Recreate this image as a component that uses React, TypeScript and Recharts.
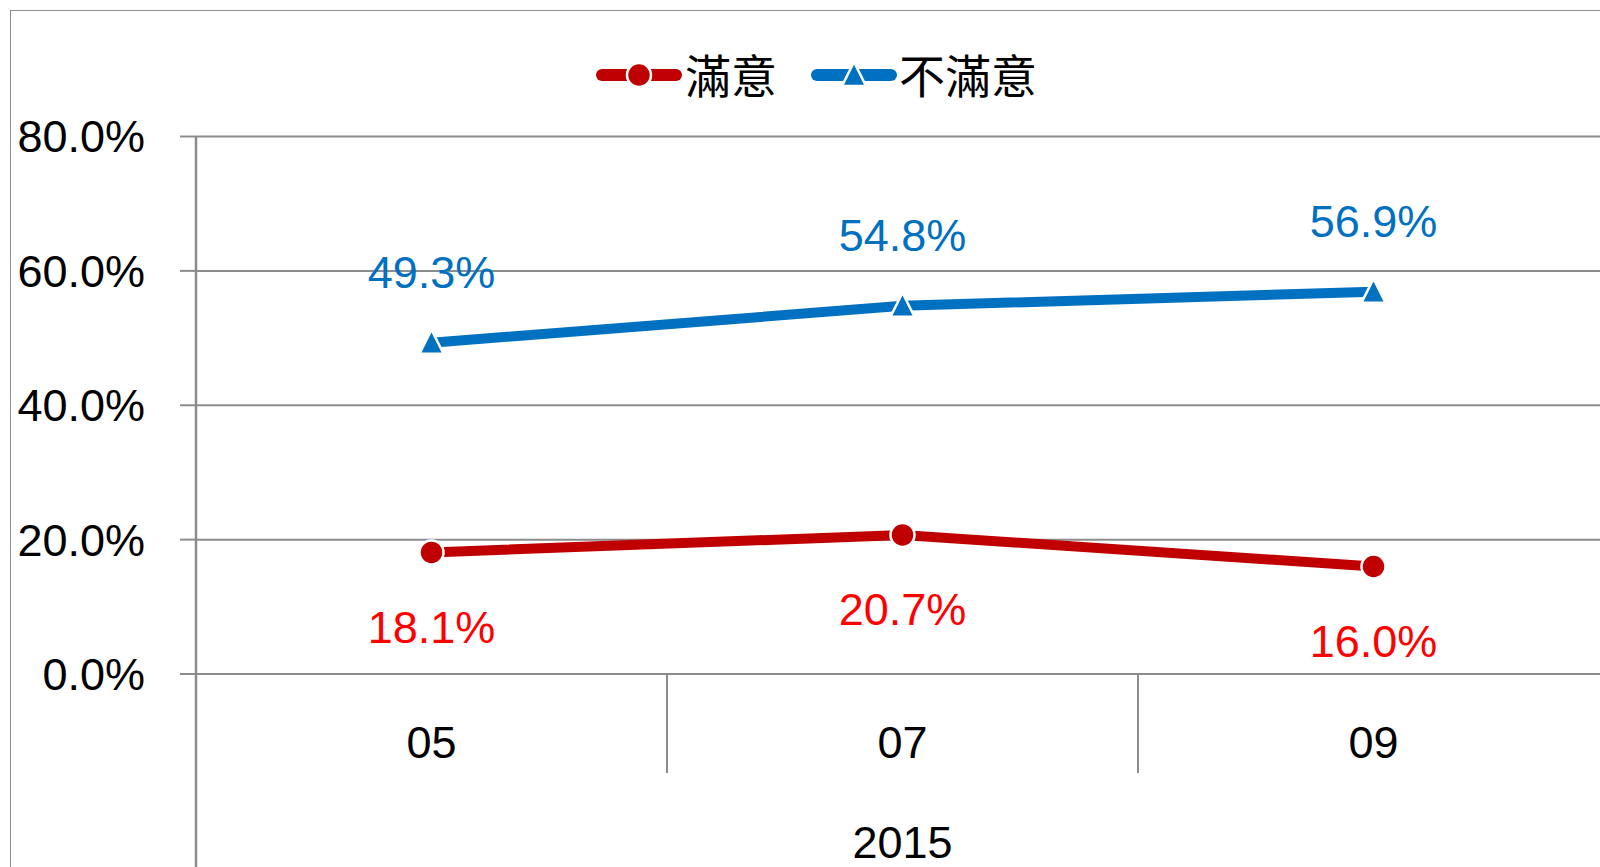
import React from 'react';
import { LineChart, Line, XAxis, YAxis, CartesianGrid, Legend, LabelList } from 'recharts';

const months = ['05', '07', '09'];
const satisfied = [18.1, 20.7, 16.0];
const dissatisfied = [49.3, 54.8, 56.9];
const yTicks = [0, 20, 40, 60, 80];
const yearLabel = '2015';
const seriesNames = ['滿意', '不滿意'];
const seriesColors = ['#C00000', '#0070C0'];
const labelColors = ['#FF0000', '#0070C0'];

const data = months.map((m, i) => ({ month: m, s: satisfied[i], d: dissatisfied[i] }));

const NUM_FONT = '"Liberation Sans", Arial, sans-serif';
const CJK_FONT = '"Noto Sans CJK TC", "Noto Sans CJK SC", sans-serif';
const GRID = '#8c8c8c';

const CircleDot = (props: any) => {
  const { cx, cy } = props;
  if (cx == null || cy == null) return null;
  return <circle cx={cx} cy={cy} r={12} fill={seriesColors[0]} stroke="#fff" strokeWidth={2.5} />;
};

const TriDot = (props: any) => {
  const { cx, cy } = props;
  if (cx == null || cy == null) return null;
  const pts = `${cx},${cy - 13} ${cx + 12},${cy + 11} ${cx - 12},${cy + 11}`;
  return <polygon points={pts} fill={seriesColors[1]} stroke="#fff" strokeWidth={2.5} strokeLinejoin="miter" />;
};

const makeLabel = (color: string, dy: number) => (props: any) => {
  const { x, y, value } = props;
  return (
    <text x={x} y={y + dy} fill={color} fontSize={45} fontFamily={NUM_FONT} textAnchor="middle" dominantBaseline="central">
      {Number(value).toFixed(1)}%
    </text>
  );
};

const XTick = (props: any) => {
  const { x, y, payload, index, width, visibleTicksCount } = props;
  const n = visibleTicksCount || months.length;
  const band = payload && payload.offset ? payload.offset * 2 : width / n;
  const left = x - band / 2;
  const right = x + band / 2;
  return (
    <g>
      <text x={x} y={y + 68} fontSize={45} fontFamily={NUM_FONT} fill="#000" textAnchor="middle" dominantBaseline="central">
        {payload.value}
      </text>
      {index > 0 && <line x1={left} x2={left} y1={y} y2={y + 99} stroke={GRID} strokeWidth={2} />}
      {index < n - 1 && <line x1={right} x2={right} y1={y} y2={y + 99} stroke={GRID} strokeWidth={2} />}
      {index === 0 && <line x1={left} x2={left} y1={y} y2={y + 260} stroke={GRID} strokeWidth={2.5} />}
      {index === 0 && (
        <text x={left + (n * band) / 2} y={y + 168} fontSize={45} fontFamily={NUM_FONT} fill="#000" textAnchor="middle" dominantBaseline="central">
          {yearLabel}
        </text>
      )}
    </g>
  );
};

const LegendSymbol = ({ color, shape }: { color: string; shape: 'circle' | 'triangle' }) => (
  <svg width={90} height={30} style={{ display: 'block' }}>
    <line x1={8} x2={82} y1={15} y2={15} stroke={color} strokeWidth={12} strokeLinecap="round" />
    {shape === 'circle' ? (
      <circle cx={45} cy={15} r={12} fill={color} stroke="#fff" strokeWidth={2.5} />
    ) : (
      <polygon points="45,2 57,26 33,26" fill={color} stroke="#fff" strokeWidth={2.5} />
    )}
  </svg>
);

const LegendContent = () => (
  <div style={{ position: 'relative', height: 0 }}>
    <div style={{ position: 'absolute', left: 594, top: 0, height: 50, display: 'flex', alignItems: 'center', whiteSpace: 'nowrap' }}>
      <LegendSymbol color={seriesColors[0]} shape="circle" />
      <span style={{ fontFamily: CJK_FONT, fontSize: 46, lineHeight: '50px', marginLeft: 1, color: '#000', position: 'relative', top: -2 }}>{seriesNames[0]}</span>
      <div style={{ width: 32 }} />
      <LegendSymbol color={seriesColors[1]} shape="triangle" />
      <span style={{ fontFamily: CJK_FONT, fontSize: 46, lineHeight: '50px', marginLeft: 0, color: '#000', position: 'relative', top: -2 }}>{seriesNames[1]}</span>
    </div>
  </div>
);

export default function App() {
  return (
    <div style={{ position: 'absolute', left: 0, top: 0, width: 1600, height: 867, overflow: 'hidden', background: '#fff' }}>
      <div style={{ position: 'absolute', left: 10, top: 10, width: 1700, height: 950, border: '1px solid #8f8f8f' }} />
      <div style={{ position: 'absolute', left: 0, top: 0 }}>
        <LineChart width={1640} height={867} data={data} margin={{ top: 136.5, right: 31, bottom: 0, left: 0 }}>
          <CartesianGrid vertical={false} stroke={GRID} strokeWidth={2} />
          <XAxis
            dataKey="month"
            scale="band"
            axisLine={false}
            tickLine={false}
            tickSize={0}
            tickMargin={0}
            height={193}
            interval={0}
            tick={<XTick />}
          />
          <YAxis
            domain={[0, 80]}
            ticks={yTicks}
            width={196}
            tickSize={16}
            tickMargin={35}
            axisLine={{ stroke: GRID, strokeWidth: 2.5 }}
            tickLine={{ stroke: GRID, strokeWidth: 2 }}
            tick={{ fontSize: 45, fontFamily: NUM_FONT, fill: '#000' }}
            tickFormatter={(v: number) => v.toFixed(1) + '%'}
          />
          <Legend
            verticalAlign="top"
            content={<LegendContent />}
            wrapperStyle={{ top: 50, left: 0, width: 1640, height: 0 }}
          />
          <Line
            dataKey="s"
            name={seriesNames[0]}
            stroke={seriesColors[0]}
            strokeWidth={10}
            dot={<CircleDot />}
            activeDot={false}
            isAnimationActive={false}
          >
            <LabelList dataKey="s" content={makeLabel(labelColors[0], 75)} />
          </Line>
          <Line
            dataKey="d"
            name={seriesNames[1]}
            stroke={seriesColors[1]}
            strokeWidth={10}
            dot={<TriDot />}
            activeDot={false}
            isAnimationActive={false}
          >
            <LabelList dataKey="d" content={makeLabel(labelColors[1], -70)} />
          </Line>
        </LineChart>
      </div>
    </div>
  );
}
